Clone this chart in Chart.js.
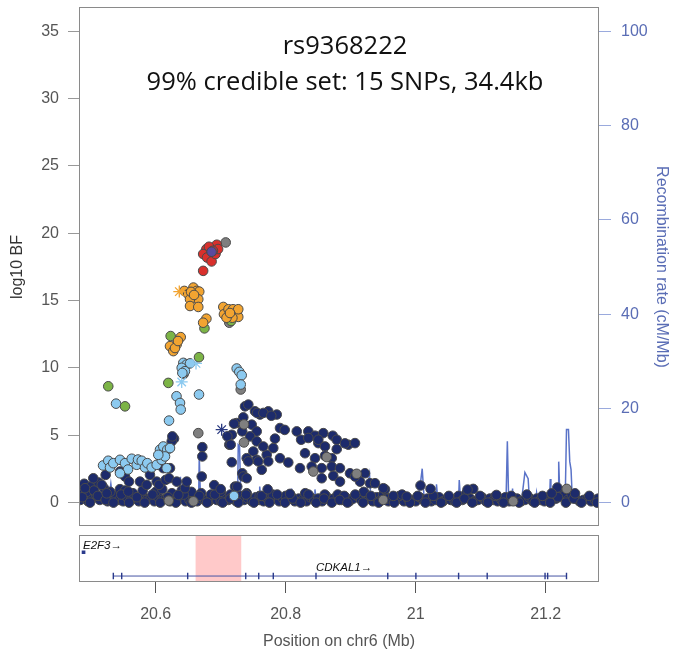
<!DOCTYPE html>
<html><head><meta charset="utf-8">
<script src="https://cdn.jsdelivr.net/npm/chart.js@4.4.0/dist/chart.umd.min.js"></script>
<style>
html,body{margin:0;padding:0;background:#fff;}
#wrap{position:relative;width:673px;height:651px;overflow:hidden;}
#c1{position:absolute;left:0;top:0;}
#c2{position:absolute;left:0;top:530px;}
</style></head><body>
<div id="wrap"><canvas id="c1" width="673" height="534"></canvas><canvas id="c2" width="673" height="121"></canvas></div>
<script>
// ---------- data ----------
const titleLines = ["rs9368222", "99% credible set: 15 SNPs, 34.4kb"];
const xTicks = [20.6, 20.8, 21, 21.2];
const yTicks = [0, 5, 10, 15, 20, 25, 30, 35];
const y2Ticks = [0, 20, 40, 60, 80, 100];
const xMin = 20.482, xMax = 21.282;

// SNPs by LD colour group: [position (Mb), log10 BF]
const leadSNP = [[20.686, 18.63]];
const ldRed = [[20.694,19.15],[20.678,18.83],[20.673,18.46],[20.679,18.20],[20.686,17.91],[20.692,18.46],[20.696,18.83],[20.673,17.21],[20.682,19.0],[20.688,18.7]];
const ldOrange = [[20.644,15.72],[20.650,15.48],[20.658,15.97],[20.663,15.72],[20.667,15.67],[20.660,15.22],[20.6655,15.10],[20.6528,15.10],[20.6528,14.60],[20.6655,14.53],[20.6543,15.65],[20.659,15.42],
 [20.704,14.53],[20.705,13.99],[20.712,14.36],[20.719,14.36],[20.725,14.11],[20.727,13.79],[20.718,13.73],[20.709,13.73],[20.727,14.36],[20.7143,14.08],
 [20.678,13.66],[20.673,13.36],
 [20.6385,12.29],[20.6323,11.75],[20.622,11.62],[20.6271,11.25],[20.6297,11.48],[20.6343,12.0]];
const ldGreen = [[20.623,12.37],[20.716,13.49],[20.675,12.94],[20.6666,10.80],[20.6194,8.89],[20.527,8.64],[20.5528,7.15]];
const ldLightBlue = [[20.6425,10.38],[20.6477,10.26],[20.6528,10.34],[20.640,10.01],[20.645,9.76],[20.641,9.63],[20.6666,8.03],[20.632,7.90],[20.6374,7.40],[20.6385,6.91],[20.6205,6.09],[20.7246,9.96],[20.7286,9.71],[20.7323,9.46],[20.7308,8.77],[20.539,7.35],
 [20.519,2.76],[20.527,3.11],[20.5297,2.61],[20.5348,2.93],[20.5451,3.18],[20.5528,2.93],[20.5574,2.46],[20.5631,3.26],[20.5708,2.81],[20.5728,3.2],[20.5785,3.11],[20.5835,2.61],[20.5871,2.93],[20.5451,2.18],[20.5938,2.61],[20.6015,2.81],[20.6092,3.18],[20.6066,3.93],[20.6117,4.17],[20.6178,3.93],[20.6143,3.43],[20.6169,2.56],[20.622,4.05],[20.604,3.55],[20.7205,0.50]];
const ldGray = [[20.7077,19.32],[20.688,18.4],[20.7132,13.36],[20.7308,8.40],[20.643,9.55],[20.6655,5.16],[20.7358,5.81],[20.7358,4.47],[20.8425,2.31],[20.8631,3.38],[20.9092,2.14],[21.2323,1.02],[20.658,0.1],[20.62,0.15],[20.95,0.2],[21.15,0.1]];
const ldNavy = [[20.4912,1.07],[20.504,1.81],[20.517,1.32],[20.5246,0.69],[20.523,2.06],[20.5451,2.31],[20.5528,1.94],[20.5578,0.82],[20.5589,1.56],[20.5758,1.56],[20.5862,1.32],[20.5912,2.06],[20.6015,1.56],[20.6051,1.32],[20.6117,2.56],[20.6154,1.69],[20.6205,1.81],[20.622,2.56],[20.6323,1.56],[20.6348,0.57],[20.6451,1.07],[20.6477,1.56],[20.6708,1.94],[20.69,1.3],[20.70,1.0],
 [20.6282,4.75],[20.6246,4.55],[20.6256,4.92],[20.6717,4.12],[20.6717,3.43],
 [20.717,5.04],[20.7132,4.30],[20.717,3.00],[20.722,1.19],[20.7374,7.15],[20.7425,7.28],[20.7348,6.33],[20.7246,5.91],[20.7477,5.79],[20.7554,5.29],[20.7451,4.92],[20.7554,4.55],[20.7502,3.80],[20.74,3.30],[20.7554,3.18],[20.7708,3.55],[20.7631,2.44],[20.7528,6.78],[20.7605,6.54],[20.7732,6.78],[20.7862,6.54],[20.7912,5.54],[20.7655,4.17],[20.7809,4.05],[20.7912,3.30],[20.804,2.98],[20.7732,3.06],[20.7578,3.06],[20.7425,3.06],[20.7332,5.29],[20.7205,5.86],[20.7102,4.92],[20.7154,4.30],[20.7332,2.18],[20.7255,1.19],[20.7722,0.99],[20.8066,0.65],[20.7348,1.94],[20.74,1.81],[20.7559,6.66],[20.7656,6.66],[20.7778,6.45],[20.7985,5.4],[20.7835,4.75],
 [20.817,5.29],[20.8348,5.29],[20.8451,4.97],[20.8578,5.16],[20.8723,4.97],[20.8785,4.67],[20.8502,4.42],[20.8605,4.17],[20.8785,3.97],[20.8963,4.30],[20.8912,4.40],[20.8297,3.67],[20.8451,3.30],[20.8605,3.48],[20.8708,3.30],[20.822,2.56],[20.84,2.68],[20.8554,2.56],[20.8708,2.68],[20.8835,2.56],[20.8554,1.81],[20.8732,1.99],[20.8835,1.56],[20.8989,2.18],[20.9143,1.56],[20.9297,1.44],[20.9374,1.44],[20.9528,0.99],[20.9655,0.50],[20.9862,0.45],[20.922,2.18],[20.9502,1.07],[20.9066,1.94],[20.8237,4.67],[20.8348,4.80],[20.8502,4.67],[20.9066,4.42],
 [21.0074,1.27],[21.0228,1.02],[21.0885,1.02],[21.0797,0.97],[21.1243,0.57],[21.2179,1.12],[21.2451,0.69],[21.2092,0.69]];
const navyBase = [[20.484,0.2],[20.49,0.5],[20.496,0.1],[20.502,0.3],[20.508,0.6],[20.514,0.2],[20.52,0.4],[20.526,0.1],[20.532,0.3],[20.538,0.5],[20.544,0.2],[20.55,0.1],[20.556,0.4],[20.562,0.2],[20.568,0.3],[20.574,0.1],[20.58,0.5],[20.586,0.2],[20.592,0.3],[20.598,0.1],[20.604,0.4],[20.61,0.2],[20.616,0.3],[20.622,0.1],[20.628,0.5],[20.634,0.2],[20.64,0.3],[20.646,0.1],[20.652,0.2],[20.658,0.4],[20.664,0.1],[20.67,0.3],[20.676,0.2],[20.682,0.1],[20.688,0.3],[20.694,0.2],[20.7,0.1],[20.706,0.4],[20.712,0.2],[20.718,0.3],[20.724,0.1],[20.73,0.5],[20.736,0.2],[20.742,0.3],[20.748,0.1],[20.754,0.4],[20.76,0.2],[20.766,0.1],[20.772,0.3],[20.778,0.2],[20.784,0.4],[20.79,0.1],[20.796,0.3],[20.802,0.2],[20.808,0.5],[20.814,0.1],[20.82,0.3],[20.826,0.2],[20.832,0.1],[20.838,0.4],[20.844,0.2],[20.85,0.3],[20.856,0.1],[20.862,0.5],[20.868,0.2],[20.874,0.3],[20.88,0.6],[20.886,0.2],[20.892,0.4],[20.898,0.1],[20.904,0.3],[20.91,0.5],[20.916,0.2],[20.922,0.7],[20.928,0.3],[20.934,0.1],[20.94,0.4],[20.946,0.2],[20.952,0.5],[20.958,0.1],[20.964,0.3],[20.97,0.2],[20.976,0.4],[20.982,0.1],[20.988,0.3],[20.994,0.2],[21.0,0.1],[21.006,0.4],[21.012,0.2],[21.018,0.3],[21.024,0.1],[21.03,0.2],[21.036,0.4],[21.042,0.1],[21.048,0.3],[21.054,0.2],[21.06,0.1],[21.066,0.5],[21.072,0.2],[21.078,0.7],[21.084,0.3],[21.09,0.1],[21.096,0.2],[21.102,0.4],[21.108,0.1],[21.114,0.3],[21.12,0.2],[21.126,0.1],[21.132,0.2],[21.138,0.4],[21.144,0.1],[21.15,0.2],[21.156,0.3],[21.162,0.1],[21.168,0.2],[21.174,0.4],[21.18,0.1],[21.186,0.3],[21.192,0.2],[21.198,0.1],[21.204,0.4],[21.21,0.6],[21.216,0.3],[21.222,0.8],[21.228,0.5],[21.234,0.2],[21.24,0.6],[21.246,0.3],[21.252,0.1],[21.258,0.2],[21.264,0.3],[21.27,0.1],[21.276,0.2],[21.281,0.3],
 [20.486,1.0],[20.49,1.4],[20.494,0.8],[20.5,1.2],[20.505,0.9],[20.512,1.5],[20.52,1.1],[20.53,0.8],[20.545,1.0],[20.553,0.9],[20.565,0.7],[20.58,0.9],[20.6,0.8],[20.61,1.0],[20.625,0.7],[20.64,0.9],[20.655,0.8],[20.67,0.7],[20.685,0.6],[20.7,0.8],[20.715,0.6],[20.74,0.7],[20.76,0.5],[20.78,0.6],[20.80,0.5],[20.83,0.7],[20.86,0.6],[20.89,0.5],[20.92,0.8],[20.95,0.6],[20.975,0.5],
 [20.487,0.4],[20.499,0.0],[20.511,0.5],[20.523,0.2],[20.535,0.0],[20.547,0.6],[20.559,0.0],[20.571,0.4],[20.583,0.0],[20.595,0.6],[20.607,0.0],[20.619,0.4],[20.631,0.0],[20.643,0.6],[20.655,0.0],[20.667,0.5],[20.679,0.0],[20.691,0.6],[20.703,0.0],[20.715,0.3],[20.727,0.0],[20.739,0.6],[20.751,0.0],[20.763,0.5],[20.775,0.0],[20.787,0.6],[20.799,0.0],[20.811,0.3],[20.823,0.0],[20.835,0.6],[20.847,0.0],[20.859,0.3],[20.871,0.0],[20.883,0.2],[20.895,0.0],[20.907,0.6],[20.919,0.0],[20.931,0.5],[20.943,0.0],[20.955,0.3],[20.967,0.0],[20.979,0.6],[20.991,0.0],[21.003,0.5],[21.015,0.0],[21.027,0.5],[21.039,0.0],[21.051,0.5],[21.063,0.0],[21.075,0.3],[21.087,0.0],[21.099,0.5],[21.111,0.0],[21.123,0.5],[21.135,0.0],[21.147,0.5],[21.159,0.0],[21.171,0.6],[21.183,0.0],[21.195,0.5],[21.207,0.0],[21.219,0.4],[21.231,0.0],[21.243,0.3],[21.255,0.0],[21.267,0.5],[21.279,0.0]];
const starLightBlue = [[20.662,10.34],[20.640,8.96]];
const starNavy = [[20.7015,5.42]];
const starOrange = [[20.6363,15.67]];

// recombination rate (cM/Mb)
const recPos = [20.482,20.500,20.515,20.528,20.531,20.534,20.545,20.560,20.575,20.590,20.605,20.620,20.636,20.638,20.640,20.655,20.666,20.667,20.669,20.690,20.710,20.726,20.727,20.729,20.731,20.745,20.759,20.760,20.762,20.780,20.795,20.808,20.809,20.811,20.830,20.844,20.845,20.847,20.865,20.885,20.900,20.922,20.929,20.931,20.950,20.970,20.990,21.003,21.007,21.010,21.013,21.025,21.031,21.032,21.034,21.050,21.066,21.067,21.069,21.090,21.110,21.130,21.139,21.141,21.143,21.148,21.149,21.150,21.160,21.163,21.168,21.173,21.175,21.185,21.186,21.188,21.200,21.206,21.207,21.208,21.219,21.220,21.222,21.230,21.232,21.235,21.237,21.239,21.241,21.255,21.270,21.282];
const recRate = [0.5,0.6,0.4,0.8,4.0,0.6,0.5,0.4,0.7,0.5,0.6,0.5,0.8,5.5,0.6,0.5,0.6,9.8,0.5,0.4,0.3,0.5,12.3,12.0,0.5,0.4,0.6,3.4,0.5,0.4,0.5,0.6,3.0,0.4,0.5,0.6,2.8,0.5,0.4,0.6,0.5,0.6,6.0,0.5,0.4,0.5,0.7,1.0,3.8,7.2,0.8,0.5,0.6,3.9,0.5,0.4,0.6,4.8,0.5,0.4,0.5,0.4,0.6,13.0,0.6,0.6,3.0,0.5,0.5,0.6,6.4,5.1,0.5,0.6,2.1,0.5,0.5,0.6,5.0,0.6,0.7,8.7,0.6,0.8,15.5,15.5,8.7,7.0,0.6,0.5,0.4,0.4];

// gene track
const geneNames = ["E2F3", "CDKAL1"];
const e2f3Pos = [20.489];
const cdkal1Span = [20.5344, 21.232];
const cdkal1Exons = [20.5348,20.5477,20.6492,20.7385,20.7585,20.7809,20.8466,20.957,21.0003,21.066,21.110,21.199,21.203,21.232];
const credibleRegion = [20.661, 20.732];

// ---------- drawing ----------
const pts = a => a.map(p => ({x: p[0], y: p[1]}));
const tickFont = {family: 'Liberation Sans, Arial, sans-serif', size: 16};
const PB = '#4a4a4a';
function snp(data, color, order) {
  return {type: 'scatter', data: pts(data), backgroundColor: color, borderColor: PB, borderWidth: 1, pointRadius: 4.8, yAxisID: 'y', order: order};
}
function star(data, color, order) {
  return {type: 'scatter', data: pts(data), pointStyle: 'star', backgroundColor: 'rgba(0,0,0,0)', borderColor: color, borderWidth: 1.3, pointRadius: 6, yAxisID: 'y', order: order};
}
const noPad = s => { s.paddingTop = 0; s.paddingBottom = 0; };
const frame = {
  id: 'frame',
  afterDatasetsDraw(chart) {
    const a = chart.chartArea, ctx = chart.ctx;
    ctx.save(); ctx.strokeStyle = '#8a8a8a'; ctx.lineWidth = 1;
    ctx.strokeRect(Math.round(a.left) + 0.5, Math.round(a.top) + 0.5, Math.round(a.right - a.left) - 1, Math.round(a.bottom - a.top) - 1);
    ctx.restore();
  }
};
const titleText = {
  id: 'titleText',
  afterDraw(chart) {
    const ctx = chart.ctx; ctx.save();
    ctx.fillStyle = '#111'; ctx.font = '25.5px "Open Sans", sans-serif';
    ctx.textAlign = 'center'; ctx.textBaseline = 'middle';
    ctx.fillText(titleLines[0], 345, 47);
    ctx.fillText(titleLines[1], 345, 83);
    ctx.restore();
  }
};

new Chart(document.getElementById('c1'), {
  data: {datasets: [
    snp(leadSNP, '#5b4a9e', 0),
    snp(ldRed, '#d9302c', 1),
    star(starOrange, '#f2a431', 2),
    snp(ldOrange, '#f2a431', 3),
    snp(ldGreen, '#7cb446', 4),
    star(starLightBlue, '#8ccaf0', 5),
    snp(ldLightBlue, '#8ccaf0', 6),
    snp(ldGray, '#7f7f7f', 7),
    star(starNavy, '#2a3a80', 8),
    snp(ldNavy, '#1d2b6b', 9),
    snp(navyBase, '#1d2b6b', 10),
    {type: 'line', data: recPos.map((x, i) => ({x: x, y: recRate[i]})), yAxisID: 'y2', borderColor: '#5a73c8', borderWidth: 1.5, pointRadius: 0, tension: 0, fill: false, order: 11}
  ]},
  options: {
    responsive: false, maintainAspectRatio: false, animation: false, devicePixelRatio: 1,
    layout: {padding: {top: 7, bottom: 0, left: 0, right: 0}},
    plugins: {legend: {display: false}, tooltip: {enabled: false}},
    scales: {
      x: {type: 'linear', min: xMin, max: xMax, display: false},
      y: {type: 'linear', position: 'left', min: -1.787, max: 36.78,
        afterBuildTicks: s => { s.ticks = yTicks.map(v => ({value: v})); },
        afterFit: s => { s.width = 79; noPad(s); },
        ticks: {color: '#555', font: tickFont, padding: 9},
        grid: {drawOnChartArea: false, drawTicks: true, tickLength: 11, color: '#999'},
        border: {display: false},
        title: {display: true, text: 'log10 BF', color: '#333', font: tickFont, padding: {top: 8, bottom: 0}}
      },
      y2: {type: 'linear', position: 'right', min: -5.106, max: 105.11,
        afterBuildTicks: s => { s.ticks = y2Ticks.map(v => ({value: v})); },
        afterFit: s => { s.width = 74; noPad(s); },
        ticks: {color: '#5a6db5', font: tickFont, padding: 10},
        grid: {drawOnChartArea: false, drawTicks: true, tickLength: 12, color: '#9aaadd'},
        border: {display: false},
        title: {display: true, text: 'Recombination rate (cM/Mb)', color: '#5a6db5', font: tickFont, padding: {top: 1.5, bottom: 0}}
      }
    }
  },
  plugins: [frame, titleText]
});

const geneLabels = {
  id: 'geneLabels',
  afterDatasetsDraw(chart) {
    const ctx = chart.ctx, xs = chart.scales.x, ys = chart.scales.y;
    ctx.save(); ctx.fillStyle = '#111'; ctx.font = 'italic 11.5px "Liberation Sans", Arial, sans-serif';
    ctx.textAlign = 'left'; ctx.textBaseline = 'middle';
    ctx.fillText(geneNames[0] + '\u2192', xs.getPixelForValue(20.4882), ys.getPixelForValue(0.787));
    ctx.fillText(geneNames[1] + '\u2192', xs.getPixelForValue(20.8466), ys.getPixelForValue(0.298));
    ctx.restore();
  }
};

new Chart(document.getElementById('c2'), {
  data: {datasets: [
    {type: 'scatter', data: cdkal1Exons.map(x => ({x: x, y: 0.128})), pointStyle: 'line', rotation: 90, pointRadius: 3.2, borderColor: '#2a3a8c', borderWidth: 1.4, order: 0},
    {type: 'scatter', data: e2f3Pos.map(x => ({x: x, y: 0.638})), pointStyle: 'rect', pointRadius: 2.6, backgroundColor: '#2a3a8c', borderColor: '#2a3a8c', borderWidth: 0, order: 1},
    {type: 'line', data: cdkal1Span.map(x => ({x: x, y: 0.128})), borderColor: '#4654a4', borderWidth: 1, pointRadius: 0, fill: false, order: 2},
    {type: 'line', data: credibleRegion.map(x => ({x: x, y: 1})), borderWidth: 0, borderColor: 'rgba(0,0,0,0)', pointRadius: 0, fill: 'origin', backgroundColor: 'rgba(255,0,0,0.21)', order: 3}
  ]},
  options: {
    responsive: false, maintainAspectRatio: false, animation: false, devicePixelRatio: 1,
    layout: {padding: {top: 5, bottom: 0, left: 79, right: 74}},
    plugins: {legend: {display: false}, tooltip: {enabled: false}},
    scales: {
      x: {type: 'linear', position: 'bottom', min: xMin, max: xMax,
        afterBuildTicks: s => { s.ticks = xTicks.map(v => ({value: v})); },
        afterFit: s => { s.height = 69; s.paddingLeft = 0; s.paddingRight = 0; },
        ticks: {color: '#555', font: tickFont, padding: 12, maxRotation: 0, callback: v => String(v)},
        grid: {drawOnChartArea: false, drawTicks: true, tickLength: 11, color: '#555'},
        border: {display: false},
        title: {display: true, text: 'Position on chr6 (Mb)', color: '#555', font: tickFont, padding: {top: 6, bottom: 0}}
      },
      y: {type: 'linear', min: 0, max: 1, display: false}
    }
  },
  plugins: [frame, geneLabels]
});
</script>
</body></html>
